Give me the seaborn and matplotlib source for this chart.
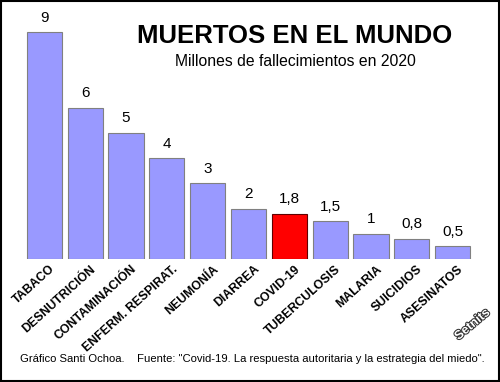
import pandas as pd
import matplotlib.pyplot as plt
import matplotlib.patheffects as pe
import matplotlib.transforms as mtransforms
import seaborn as sns

sns.set_theme(style="white")
plt.rcParams['font.family'] = ['Liberation Sans', 'DejaVu Sans']
plt.rcParams['text.color'] = 'black'
plt.rcParams['xtick.color'] = 'black'

causas = ["TABACO", "DESNUTRICIÓN", "CONTAMINACIÓN", "ENFERM. RESPIRAT.", "NEUMONÍA",
          "DIARREA", "COVID-19", "TUBERCULOSIS", "MALARIA", "SUICIDIOS", "ASESINATOS"]
muertes = [9, 6, 5, 4, 3, 2, 1.8, 1.5, 1, 0.8, 0.5]
etiquetas = ["9", "6", "5", "4", "3", "2", "1,8", "1,5", "1", "0,8", "0,5"]

df = pd.DataFrame({"causa": causas, "muertes": muertes})
colores = ["#ff0000" if c == "COVID-19" else "#9999ff" for c in causas]

fig = plt.figure(figsize=(5, 3.82), dpi=100)
ax = fig.add_axes([0.048, 0.322, 0.898, 0.66])
sns.barplot(data=df, x="causa", y="muertes", hue="causa", palette=colores,
            width=0.86, saturation=1, legend=False, ax=ax)
for bar, c in zip(ax.patches, causas):
    bar.set_edgecolor("#600000" if c == "COVID-19" else "#808080")
    bar.set_linewidth(0.8)

for i, (v, t) in enumerate(zip(muertes, etiquetas)):
    ax.text(i, v + 0.3, t, ha="center", va="bottom", fontsize=11)

ax.set_ylim(0, 10)
ax.set_xlim(-0.5, 10.5)
ax.set_yticks([])
ax.set_xlabel("")
ax.set_ylabel("")
ax.set_xticks(range(len(causas)))
ax.set_xticklabels(causas, rotation=42, ha="right", rotation_mode="anchor",
                   fontsize=8.8, fontweight="semibold")
ax.tick_params(axis="x", length=0, pad=3)
shift = mtransforms.ScaledTranslation(5 / 100, 0, fig.dpi_scale_trans)
for lbl in ax.get_xticklabels():
    lbl.set_transform(lbl.get_transform() + shift)
for s in ax.spines.values():
    s.set_visible(False)

fig.text(0.59, 0.905, "MUERTOS EN EL MUNDO", ha="center", va="center",
         fontsize=18.5, fontweight="bold")
fig.text(0.59, 0.838, "Millones de fallecimientos en 2020", ha="center", va="center",
         fontsize=11.3)
fig.text(0.04, 0.06, 'Gráfico Santi Ochoa.    Fuente: "Covid-19. La respuesta autoritaria y la estrategia del miedo".',
         ha="left", va="center", fontsize=8.1)
fig.text(0.945, 0.15, "Setnits", ha="center", va="center", fontsize=9, rotation=40,
         fontweight="bold", color="white",
         path_effects=[pe.withStroke(linewidth=1.5, foreground="#333333")])

fig.patches.append(plt.Rectangle((0.002, 0.002), 0.996, 0.996, transform=fig.transFigure,
                                 fill=False, edgecolor="black", linewidth=1.5))

fig.savefig("out.png", dpi=100)
